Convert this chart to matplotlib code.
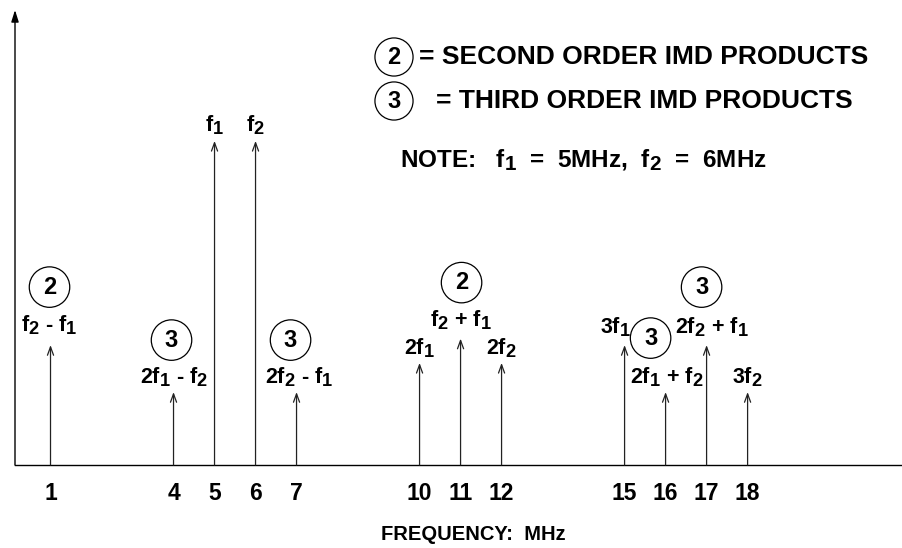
import matplotlib
matplotlib.use("Agg")
import matplotlib.pyplot as plt

plt.rcParams['font.family'] = ['Liberation Sans', 'DejaVu Sans']
plt.rcParams['font.weight'] = 'bold'
plt.rcParams['mathtext.fontset'] = 'custom'
plt.rcParams['mathtext.rm'] = 'Liberation Sans:bold'
plt.rcParams['mathtext.it'] = 'Liberation Sans:bold'
plt.rcParams['mathtext.bf'] = 'Liberation Sans:bold'

# subscripts in the original are almost full size
try:
    import matplotlib._mathtext as _mt
    _mt.SHRINK_FACTOR = 0.85
except Exception:
    pass

# spectral lines: frequency (MHz), relative amplitude, label, IMD order (0 = fundamental / harmonic)
freqs = [1, 4, 5, 6, 7, 10, 11, 12, 15, 16, 17, 18]
amps = [0.37, 0.225, 1.0, 1.0, 0.225, 0.315, 0.39, 0.315, 0.37, 0.225, 0.37, 0.225]
labels = ['f$_2$ - f$_1$', '2f$_1$ - f$_2$', 'f$_1$', 'f$_2$', '2f$_2$ - f$_1$',
          '2f$_1$', 'f$_2$ + f$_1$', '2f$_2$',
          '3f$_1$', '2f$_1$ + f$_2$', '2f$_2$ + f$_1$', '3f$_2$']
orders = [2, 3, 0, 0, 3, 0, 2, 0, 0, 3, 3, 0]
tick_labels = [str(f) for f in freqs]

# label / circle offsets from each arrow tip, in pixels (dx, dy up)
label_off = [(-1, 20), (0, 15), (0, 16), (0, 16), (3, 15), (0, 15), (0, 18), (0, 15),
             (-9, 18), (1, 15), (5, 18), (0, 15)]
circle_off = [(-1, 58), (-2, 52), None, None, (-6, 52), None, (1, 56), None,
              None, (-15, 54), (-5, 58), None]

W, H = 903, 548
fig = plt.figure(figsize=(W / 100, H / 100), dpi=100)
ax = fig.add_axes([15 / W, 83 / H, 888 / W, 455 / H])
ax.set_xlim(0.134, 21.79)
ax.set_ylim(0, 1.404)

for s in ['top', 'right', 'left']:
    ax.spines[s].set_visible(False)
ax.spines['bottom'].set_linewidth(1.0)
ax.set_yticks([])
ax.set_xticks(freqs)
ax.set_xticklabels(tick_labels, fontsize=16.5, fontweight='bold')
ax.tick_params(axis='x', length=0, pad=12)

# y axis with arrow head
ax.annotate('', xy=(0, 1), xytext=(0, 0), xycoords='axes fraction',
            arrowprops=dict(arrowstyle='-|>,head_length=0.7,head_width=0.22',
                            lw=1.0, color='black', shrinkA=0, shrinkB=0))

pt = 0.72  # px -> points
for f, a, lab, order, lo, co in zip(freqs, amps, labels, orders, label_off, circle_off):
    ax.annotate('', xy=(f, a), xytext=(f, 0),
                arrowprops=dict(arrowstyle='->,head_length=0.6,head_width=0.22',
                                lw=0.9, color='#222222', shrinkA=0, shrinkB=0))
    ax.annotate(lab, xy=(f, a), xytext=(lo[0] * pt, lo[1] * pt), textcoords='offset points',
                ha='center', va='center', fontsize=15.5, fontweight='bold')
    if co is not None:
        ax.annotate(str(order), xy=(f, a), xytext=(co[0] * pt, co[1] * pt),
                    textcoords='offset points', ha='center', va='center',
                    fontsize=17, fontweight='bold',
                    bbox=dict(boxstyle='circle,pad=0.37', fc='none', ec='black', lw=0.9))

def fp(x, y):
    return x / W, 1 - y / H

# legend / note
fig.text(*fp(394, 57), '2', ha='center', va='center', fontsize=17, fontweight='bold',
         bbox=dict(boxstyle='circle,pad=0.32', fc='none', ec='black', lw=0.9))
fig.text(*fp(419, 57), '= SECOND ORDER IMD PRODUCTS', ha='left', va='center',
         fontsize=19, fontweight='bold')
fig.text(*fp(394, 101), '3', ha='center', va='center', fontsize=17, fontweight='bold',
         bbox=dict(boxstyle='circle,pad=0.32', fc='none', ec='black', lw=0.9))
fig.text(*fp(436, 101), '= THIRD ORDER IMD PRODUCTS', ha='left', va='center',
         fontsize=19, fontweight='bold')
fig.text(*fp(400, 160), 'NOTE:   f$_1$  =  5MHz,  f$_2$  =  6MHz', ha='left', va='center',
         fontsize=17.5, fontweight='bold')

fig.text(*fp(473, 535), 'FREQUENCY:  MHz', ha='center', va='center',
         fontsize=14.5, fontweight='bold')

fig.savefig('out.png', dpi=100)
